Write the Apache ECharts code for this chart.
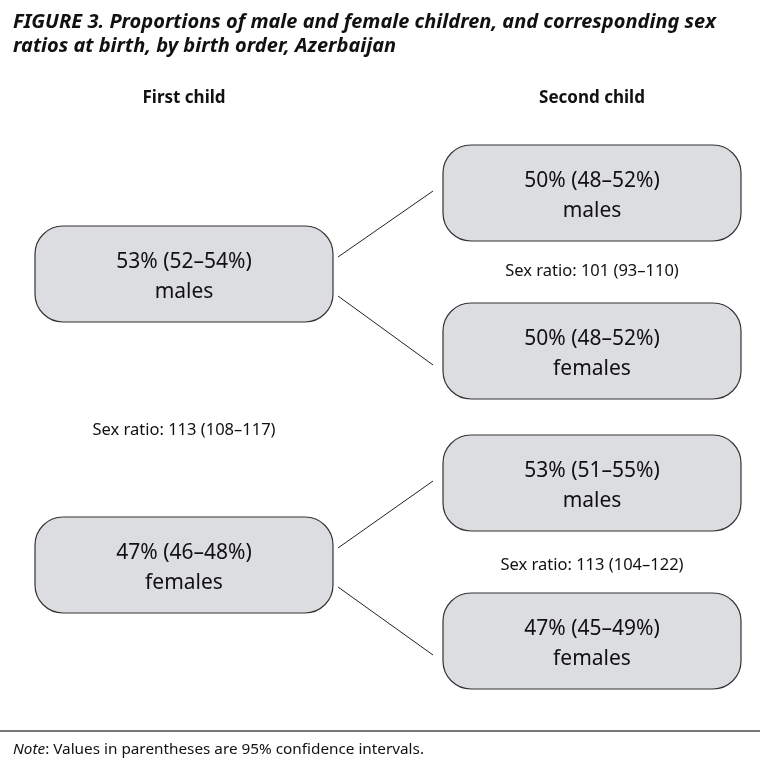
<!DOCTYPE html>
<html>
<head>
<meta charset="utf-8">
<script src="https://cdn.jsdelivr.net/npm/echarts@6/dist/echarts.min.js"></script>
<style>
  html, body { margin: 0; padding: 0; background: #fff; }
  #chart { width: 760px; height: 764px; }
</style>
</head>
<body>
<div id="chart"></div>
<script>
// columns of the tree (birth order)
const columns = ['First child', 'Second child'];

// boxes: column, vertical position (down from top of diagram), share and CI
const nodeColumn = [0, 0, 1, 1, 1, 1];
const nodeRow = [129, 420, 48, 206, 338, 496];
const nodeShare = [53, 47, 50, 50, 53, 47];
const nodeLow = [52, 46, 48, 48, 51, 45];
const nodeHigh = [54, 48, 52, 52, 55, 49];
const nodeSex = ['males', 'females', 'males', 'females', 'males', 'females'];

// parent -> child links
const linkFrom = [0, 0, 1, 1];
const linkTo = [2, 3, 4, 5];

// sex ratios at birth, with CI
const ratioColumn = [0, 1, 1];
const ratioRow = [285, 126, 420];
const ratioValue = [113, 101, 113];
const ratioLow = [108, 93, 104];
const ratioHigh = [117, 110, 122];

const FONT = "'Noto Sans', sans-serif";
const BOX_W = 298, BOX_H = 96, BOX_R = 28;

const myChart = echarts.init(document.getElementById('chart'));

const nodeData = nodeColumn.map((c, i) => [c, nodeRow[i], i]);
const linkData = linkFrom.map((p, i) => [p, linkTo[i]]);
const ratioData = ratioColumn.map((c, i) => [c, ratioRow[i], i]);

const option = {
  animation: false,
  title: [
    {
      text: 'FIGURE 3. Proportions of male and female children, and corresponding sex\nratios at birth, by birth order, Azerbaijan',
      left: 8, top: 5,
      textStyle: { fontFamily: FONT, fontSize: 20, fontWeight: 'bold', fontStyle: 'italic', color: '#111', lineHeight: 24 }
    },
    {
      text: '{i|Note}: Values in parentheses are 95% confidence intervals.',
      left: 8, top: 737,
      textStyle: {
        fontFamily: FONT, fontSize: 15.3, fontWeight: 'normal', color: '#111',
        rich: { i: { fontFamily: FONT, fontSize: 15.3, fontStyle: 'italic', color: '#111' } }
      }
    }
  ],
  graphic: [
    { type: 'line', shape: { x1: 0, y1: 731, x2: 760, y2: 731 }, style: { stroke: '#777', lineWidth: 2 } }
  ],
  grid: { left: 184, right: 168, top: 145, bottom: 75 },
  xAxis: {
    type: 'category',
    data: columns,
    position: 'top',
    boundaryGap: false,
    axisLine: { show: false },
    axisTick: { show: false },
    splitLine: { show: false },
    axisLabel: { margin: 38, fontFamily: FONT, fontSize: 17, fontWeight: 'bold', color: '#111' }
  },
  yAxis: {
    type: 'value',
    min: 0, max: 544,
    inverse: true,
    show: false
  },
  series: [
    {
      type: 'custom',
      name: 'links',
      data: linkData,
      renderItem: function (params, api) {
        const p = api.value(0), c = api.value(1);
        const a = api.coord([nodeColumn[p], nodeRow[p]]);
        const b = api.coord([nodeColumn[c], nodeRow[c]]);
        const up = nodeRow[c] < nodeRow[p];
        return {
          type: 'line',
          shape: {
            x1: a[0] + BOX_W / 2 + 5, y1: a[1] + (up ? -17 : 22),
            x2: b[0] - BOX_W / 2 - 10, y2: b[1] + (up ? -2 : 14)
          },
          style: { stroke: '#222', lineWidth: 1 }
        };
      }
    },
    {
      type: 'custom',
      name: 'boxes',
      data: nodeData,
      renderItem: function (params, api) {
        const pt = api.coord([api.value(0), api.value(1)]);
        const i = api.value(2);
        return {
          type: 'group',
          children: [
            {
              type: 'rect',
              shape: { x: pt[0] - BOX_W / 2, y: pt[1] - BOX_H / 2, width: BOX_W, height: BOX_H, r: BOX_R },
              style: { fill: '#dcdde0', stroke: '#333', lineWidth: 1.2 }
            },
            {
              type: 'text',
              x: pt[0], y: pt[1] + 3,
              style: {
                text: nodeShare[i] + '% (' + nodeLow[i] + '–' + nodeHigh[i] + '%)\n' + nodeSex[i],
                align: 'center', verticalAlign: 'middle',
                fontFamily: FONT, fontSize: 21, lineHeight: 30, fill: '#111'
              }
            }
          ]
        };
      }
    },
    {
      type: 'custom',
      name: 'ratios',
      data: ratioData,
      renderItem: function (params, api) {
        const pt = api.coord([api.value(0), api.value(1)]);
        const i = api.value(2);
        return {
          type: 'text',
          x: pt[0], y: pt[1],
          style: {
            text: 'Sex ratio: ' + ratioValue[i] + ' (' + ratioLow[i] + '–' + ratioHigh[i] + ')',
            align: 'center', verticalAlign: 'middle',
            fontFamily: FONT, fontSize: 16.5, fill: '#111'
          }
        };
      }
    }
  ]
};

option && myChart.setOption(option);
</script>
</body>
</html>
